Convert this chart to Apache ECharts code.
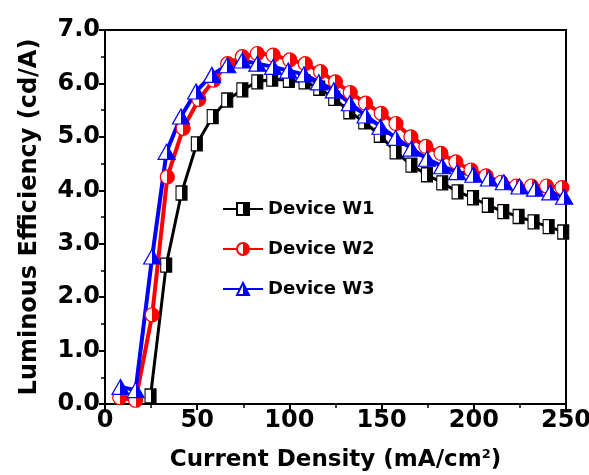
<!DOCTYPE html>
<html>
<head>
<meta charset="utf-8">
<script src="https://cdn.jsdelivr.net/npm/echarts@6/dist/echarts.min.js"></script>
<style>
  html, body { margin: 0; padding: 0; background: #fff; }
  #chart { width: 589px; height: 475px; }
</style>
</head>
<body>
<div id="chart"></div>
<script>
// Device W1 (black squares)
const w1X = [24.7, 33.2, 41.5, 49.8, 58.4, 66.3, 74.5, 82.6, 90.7, 99.7, 108.2, 116.2, 124.3, 132.5,
             140.6, 149.0, 157.6, 166.2, 174.6, 182.9, 191.2, 199.6, 207.6, 216.0, 224.3, 232.4, 240.6, 248.5]
const w1Y = [0.15, 2.6, 3.95, 4.87, 5.38, 5.69, 5.88, 6.03, 6.08, 6.06, 6.03, 5.91, 5.72, 5.47,
             5.28, 5.03, 4.72, 4.47, 4.29, 4.14, 3.97, 3.86, 3.72, 3.60, 3.51, 3.41, 3.32, 3.22]
// Device W2 (red circles)
const w2X = [8.0, 16.6, 25.6, 33.8, 42.4, 50.9, 59.0, 66.5, 74.5, 82.6, 91.2, 100.2, 108.6, 116.9, 125.0,
             133.0, 141.3, 149.8, 157.8, 165.9, 174.0, 182.2, 190.3, 198.5, 206.7, 214.9, 223.1, 231.3, 239.5, 247.8]
const w2Y = [0.12, 0.07, 1.67, 4.25, 5.16, 5.70, 6.06, 6.37, 6.50, 6.56, 6.53, 6.44, 6.37, 6.22, 6.03,
             5.83, 5.63, 5.44, 5.25, 5.00, 4.82, 4.69, 4.53, 4.38, 4.27, 4.15, 4.08, 4.08, 4.08, 4.05]
// Device W3 (blue triangles)
const w3X = [8.4, 16.6, 25.6, 33.4, 41.2, 49.4, 58.0, 66.3, 74.5, 82.6, 91.2, 99.4, 107.9, 116.0, 124.1,
             132.8, 141.3, 149.4, 157.6, 166.2, 174.6, 182.9, 191.0, 199.8, 208.2, 216.3, 224.8, 233.2, 241.5, 249.0]
const w3Y = [0.32, 0.26, 2.76, 4.72, 5.38, 5.85, 6.16, 6.34, 6.43, 6.37, 6.31, 6.24, 6.17, 6.02, 5.87,
             5.63, 5.40, 5.19, 4.98, 4.78, 4.59, 4.45, 4.34, 4.29, 4.22, 4.15, 4.07, 4.03, 3.96, 3.88]

const names = ['Device W1', 'Device W2', 'Device W3']
const xTitle = 'Current Density (mA/cm{sup|2})'
const yTitle = 'Luminous Efficiency (cd/A)'

function pairs(xs, ys) {
  return xs.map((x, i) => [x, ys[i]])
}

// left half white, right half coloured
function halfFill(c) {
  return new echarts.graphic.LinearGradient(0, 0, 1, 0, [
    {offset: 0, color: '#fff'}, {offset: 0.5, color: '#fff'},
    {offset: 0.5, color: c}, {offset: 1, color: c}
  ])
}

function makeSeries(name, data, color, symbol, size, lw) {
  return {
    name: name,
    type: 'line',
    data: data,
    symbol: symbol,
    symbolSize: size,
    showAllSymbol: true,
    lineStyle: {color: color, width: lw},
    itemStyle: {color: halfFill(color), borderColor: color, borderWidth: 1.2},
    emphasis: {disabled: true},
    animation: false
  }
}

const font = 'DejaVu Sans, Verdana, sans-serif'
const chart = echarts.init(document.getElementById('chart'))

chart.setOption({
  backgroundColor: '#fff',
  grid: {left: 105, right: 23, top: 30, bottom: 71, outerBoundsMode: 'none',
    show: true, borderColor: '#000', borderWidth: 2},
  legend: {
    data: names,
    orient: 'vertical',
    left: 217,
    top: 195,
    itemGap: 22,
    itemWidth: 40,
    itemHeight: 15,
    textStyle: {fontFamily: font, fontWeight: 'bold', fontSize: 18, color: '#000'}
  },
  xAxis: {
    type: 'value',
    min: 0, max: 250, interval: 50,
    name: xTitle,
    nameLocation: 'middle',
    nameGap: 44,
    nameTextStyle: {
      fontFamily: font, fontWeight: 'bold', fontSize: 23, color: '#000',
      rich: {sup: {fontFamily: font, fontWeight: 'bold', fontSize: 13, verticalAlign: 'top', padding: [0, 0, 12, 0]}}
    },
    axisLine: {lineStyle: {color: '#000', width: 2}},
    axisTick: {inside: false, length: 6, lineStyle: {width: 2}},
    minorTick: {show: true, splitNumber: 2, length: 4, lineStyle: {color: '#000', width: 1.5}},
    splitLine: {show: false},
    axisLabel: {fontFamily: font, fontWeight: 'bold', fontSize: 24, color: '#000', margin: 5}
  },
  yAxis: {
    type: 'value',
    min: 0, max: 7, interval: 1,
    name: yTitle,
    nameLocation: 'middle',
    nameGap: 63,
    nameTextStyle: {fontFamily: font, fontWeight: 'bold', fontSize: 24, color: '#000'},
    axisLine: {show: true, lineStyle: {color: '#000', width: 2}},
    axisTick: {show: true, inside: false, length: 6, lineStyle: {width: 2}},
    minorTick: {show: true, splitNumber: 2, length: 4, lineStyle: {color: '#000', width: 1.5}},
    splitLine: {show: false},
    axisLabel: {fontFamily: font, fontWeight: 'bold', fontSize: 24, color: '#000', margin: 5,
      formatter: v => v.toFixed(1)}
  },
  series: [
    makeSeries(names[0], pairs(w1X, w1Y), '#000', 'rect', [11, 14], 3),
    makeSeries(names[1], pairs(w2X, w2Y), '#ff0000', 'circle', 14, 4),
    makeSeries(names[2], pairs(w3X, w3Y), '#0000ff', 'triangle', [17, 15], 4)
  ]
})
</script>
</body>
</html>
